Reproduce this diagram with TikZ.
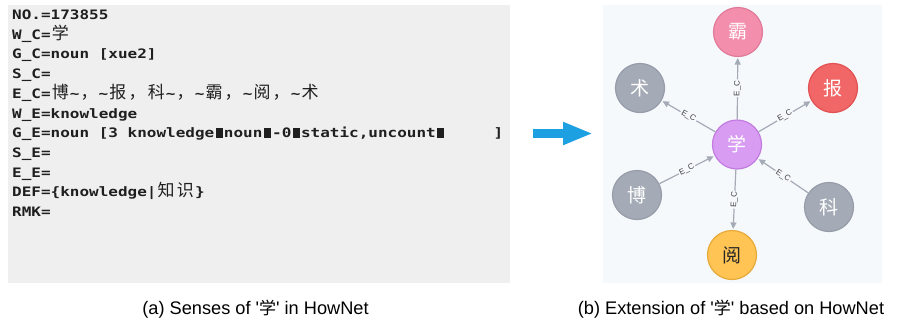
\documentclass[tikz,border=0pt]{standalone}
\usepackage{fontspec}
\setmainfont{Liberation Sans}
\newfontfamily\cjk{Noto Sans CJK SC}
\newfontfamily\monof[FakeStretch=1.23]{DejaVu Sans Mono}
\usetikzlibrary{arrows.meta}
\definecolor{leftbg}{HTML}{EFEFEF}
\definecolor{panelb}{HTML}{F6F9FC}
\definecolor{ngray}{HTML}{A5ABB6}
\definecolor{ngrayb}{HTML}{979DA8}
\definecolor{npink}{HTML}{F38EAC}
\definecolor{npinkb}{HTML}{E07A99}
\definecolor{nred}{HTML}{F16667}
\definecolor{nredb}{HTML}{E25253}
\definecolor{nyel}{HTML}{FFC454}
\definecolor{nyelb}{HTML}{E6AA3A}
\definecolor{npur}{HTML}{D89CF3}
\definecolor{npurb}{HTML}{C27CDF}
\definecolor{edgec}{HTML}{A5ABB6}
\definecolor{bluearrow}{HTML}{1CA0E2}
\newcommand\cjc[1]{\makebox[19.2pt]{\fontsize{17}{17}\cjk\mdseries #1}}
\newcommand\cjp[1]{\makebox[19.2pt][l]{\hspace{1pt}\fontsize{17}{17}\cjk\mdseries #1}}
\newcommand\blk{\makebox[9.63pt]{\rule{7pt}{9.5pt}}}
\newcommand\tl{\textasciitilde}
\begin{document}
\begin{tikzpicture}[x=1pt,y=-1pt,
  mono/.style={anchor=base west, inner sep=0pt, font=\fontsize{13}{15}\monof\bfseries, text=black!88},
  gn/.style={circle, minimum size=49pt, inner sep=0pt, line width=1.2pt, font=\fontsize{19}{19}\cjk, text=white},
  graynode/.style={gn, fill=ngray, draw=ngrayb},
  rel/.style={draw=edgec, line width=1.2pt, -{Triangle[length=6.5pt,width=6pt]}, shorten >=1pt},
  lab/.style={sloped, midway, fill=panelb, inner sep=1.2pt, font=\fontsize{8}{8}\selectfont, text=black!75},
  captext/.style={anchor=base, inner sep=0pt, font=\fontsize{18.2}{20}\selectfont, text=black}
]
\useasboundingbox (0,0) rectangle (898,322);
% panels
\fill[leftbg] (8,5) rectangle (510,283);
\fill[panelb] (603,5) rectangle (882,283);

% left text
\node[mono] (l1) at (12,19.5) {NO.=173855};
\node[mono] (l2) at (12,39.2) {W\_C=\cjc{学}};
\node[mono] (l3) at (12,58.9) {G\_C=noun [xue2]};
\node[mono] (l4) at (12,78.6) {S\_C=};
\node[mono] (l5) at (12,98.3) {E\_C=\cjc{博}\tl\cjp{，}\tl\cjc{报}\cjp{，}\cjc{科}\tl\cjp{，}\tl\cjc{霸}\cjp{，}\tl\cjc{阅}\cjp{，}\tl\cjc{术}};
\node[mono] (l6) at (12,118) {W\_E=knowledge};
\node[mono] (l7) at (12,137.7) {G\_E=noun [3 knowledge\blk noun\blk -0\blk static,uncount\blk\phantom{00000}]};
\node[mono] (l8) at (12,157.4) {S\_E=};
\node[mono] (l9) at (12,177.1) {E\_E=};
\node[mono] (l10) at (12,196.8) {DEF=\{knowledge|\cjc{知}\cjc{识}\}};
\node[mono] (l11) at (12,216.5) {RMK=};

% blue arrow
\coordinate (arrS) at (533,133.5);
\coordinate (arrE) at (593,133.5);
\draw[bluearrow, line width=9pt, -{Triangle[length=30pt,width=21pt]}] (arrS) -- (arrE);

% graph
\node[gn, fill=npur, draw=npurb] (xue) at (737,144.5) {学};
\node[gn, fill=npink, draw=npinkb] (ba) at (738,32) {霸};
\node[graynode] (shu) at (640,88) {术};
\node[gn, fill=nred, draw=nredb] (bao) at (833,88) {报};
\node[graynode] (bo) at (637,195) {博};
\node[graynode] (ke) at (829,207) {科};
\node[gn, fill=nyel, draw=nyelb, text=black!85] (yue) at (732,255) {阅};

\draw[rel] (xue) -- node[lab] {E\_C} (ba);
\draw[rel] (xue) -- node[lab] {E\_C} (shu);
\draw[rel] (xue) -- node[lab] {E\_C} (bao);
\draw[rel] (bo) -- node[lab] {E\_C} (xue);
\draw[rel] (ke) -- node[lab] {E\_C} (xue);
\draw[rel] (xue) -- node[lab] {E\_C} (yue);

% captions
\node[captext] (capa) at (255.5,314) {(a) Senses of \textquotesingle{\fontsize{17}{17}\cjk 学}\textquotesingle{} in HowNet};
\node[captext] (capb) at (731,314) {(b) Extension of \textquotesingle{\fontsize{17}{17}\cjk 学}\textquotesingle{} based on HowNet};
\end{tikzpicture}
\end{document}
